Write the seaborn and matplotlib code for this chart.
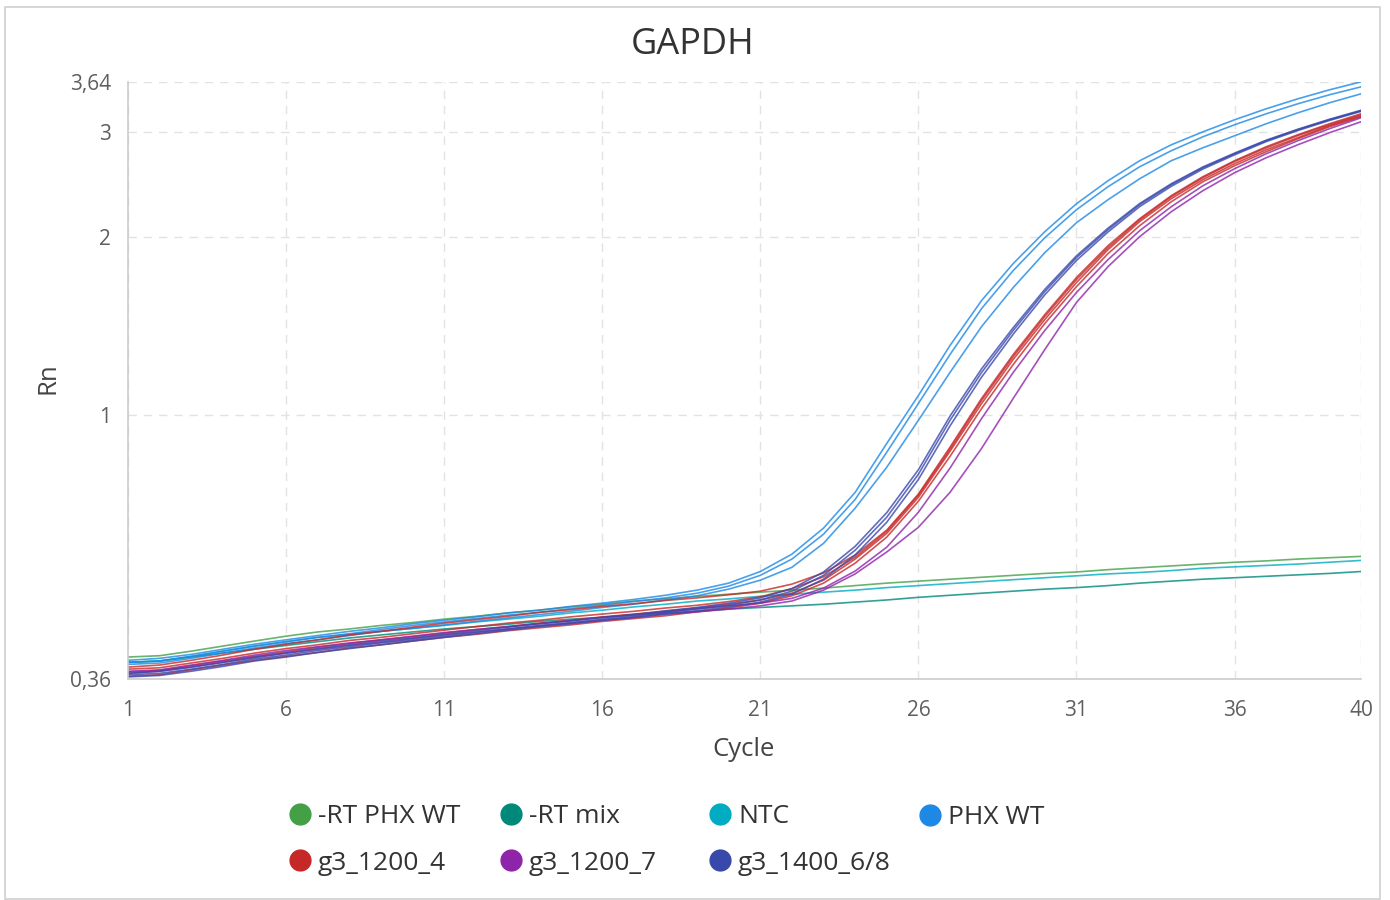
import pandas as pd
import matplotlib
matplotlib.use("Agg")
import matplotlib.pyplot as plt
import matplotlib.ticker as mticker
from matplotlib.lines import Line2D
from matplotlib.patches import Rectangle
import seaborn as sns

cycles = list(range(1, 41))

# controls (one well each)
rt_phx_wt = [0.392, 0.394, 0.401, 0.409, 0.417, 0.425, 0.432, 0.437, 0.443, 0.448,
             0.454, 0.459, 0.465, 0.470, 0.476, 0.481, 0.487, 0.491, 0.496, 0.500,
             0.504, 0.508, 0.512, 0.517, 0.522, 0.526, 0.530, 0.534, 0.538, 0.542,
             0.545, 0.550, 0.554, 0.558, 0.562, 0.566, 0.569, 0.573, 0.576, 0.579]
rt_mix = [0.384, 0.386, 0.392, 0.398, 0.404, 0.410, 0.416, 0.422, 0.427, 0.432,
          0.437, 0.441, 0.445, 0.450, 0.454, 0.457, 0.461, 0.465, 0.468, 0.472,
          0.475, 0.478, 0.481, 0.485, 0.489, 0.494, 0.498, 0.502, 0.506, 0.510,
          0.513, 0.517, 0.522, 0.526, 0.530, 0.533, 0.536, 0.539, 0.542, 0.546]
ntc = [0.384, 0.386, 0.393, 0.401, 0.409, 0.416, 0.423, 0.428, 0.433, 0.438,
       0.443, 0.449, 0.454, 0.459, 0.465, 0.470, 0.476, 0.481, 0.487, 0.491,
       0.496, 0.500, 0.504, 0.508, 0.513, 0.517, 0.521, 0.525, 0.529, 0.533,
       0.537, 0.541, 0.544, 0.548, 0.553, 0.556, 0.559, 0.562, 0.566, 0.570]

# PHX WT replicates
phx_wt_1 = [0.387, 0.390, 0.396, 0.404, 0.412, 0.419, 0.426, 0.433, 0.439, 0.446,
            0.452, 0.458, 0.465, 0.470, 0.477, 0.483, 0.490, 0.498, 0.508, 0.522,
            0.546, 0.584, 0.646, 0.742, 0.897, 1.080, 1.311, 1.561, 1.801, 2.038,
            2.271, 2.483, 2.683, 2.854, 3.001, 3.144, 3.281, 3.410, 3.531, 3.642]
phx_wt_2 = [0.384, 0.386, 0.393, 0.401, 0.409, 0.416, 0.423, 0.429, 0.436, 0.443,
            0.449, 0.455, 0.461, 0.466, 0.473, 0.479, 0.486, 0.493, 0.502, 0.516,
            0.538, 0.573, 0.631, 0.722, 0.867, 1.047, 1.266, 1.513, 1.753, 1.991,
            2.219, 2.426, 2.621, 2.789, 2.944, 3.084, 3.218, 3.345, 3.464, 3.572]
phx_wt_3 = [0.381, 0.383, 0.390, 0.398, 0.406, 0.413, 0.419, 0.426, 0.433, 0.438,
            0.444, 0.450, 0.456, 0.462, 0.468, 0.475, 0.481, 0.489, 0.497, 0.510,
            0.528, 0.555, 0.609, 0.698, 0.818, 0.981, 1.181, 1.411, 1.641, 1.879,
            2.110, 2.307, 2.502, 2.683, 2.821, 2.955, 3.096, 3.230, 3.358, 3.477]

# g3_1200_4 replicates
g3_1200_4_1 = [0.377, 0.380, 0.387, 0.395, 0.404, 0.412, 0.419, 0.427, 0.433, 0.440,
               0.447, 0.453, 0.459, 0.466, 0.471, 0.477, 0.482, 0.488, 0.493, 0.499,
               0.506, 0.520, 0.543, 0.582, 0.641, 0.737, 0.884, 1.068, 1.266, 1.478,
               1.706, 1.931, 2.143, 2.343, 2.522, 2.683, 2.832, 2.967, 3.096, 3.218]
g3_1200_4_2 = [0.370, 0.372, 0.379, 0.386, 0.393, 0.400, 0.407, 0.413, 0.419, 0.424,
               0.430, 0.436, 0.441, 0.447, 0.452, 0.458, 0.463, 0.468, 0.474, 0.481,
               0.489, 0.502, 0.528, 0.573, 0.633, 0.728, 0.870, 1.047, 1.242, 1.450,
               1.673, 1.901, 2.119, 2.316, 2.493, 2.652, 2.799, 2.933, 3.072, 3.193]
g3_1200_4_3 = [0.364, 0.366, 0.373, 0.380, 0.387, 0.393, 0.399, 0.406, 0.411, 0.417,
               0.423, 0.428, 0.434, 0.439, 0.444, 0.450, 0.455, 0.460, 0.467, 0.474,
               0.483, 0.497, 0.522, 0.564, 0.624, 0.717, 0.853, 1.027, 1.218, 1.428,
               1.647, 1.872, 2.086, 2.289, 2.473, 2.631, 2.778, 2.921, 3.060, 3.181]
g3_1200_4_4 = [0.374, 0.376, 0.383, 0.390, 0.398, 0.405, 0.411, 0.418, 0.423, 0.429,
               0.435, 0.441, 0.447, 0.452, 0.458, 0.463, 0.468, 0.474, 0.479, 0.486,
               0.495, 0.511, 0.535, 0.577, 0.638, 0.734, 0.877, 1.060, 1.256, 1.467,
               1.693, 1.916, 2.134, 2.334, 2.512, 2.674, 2.820, 2.957, 3.084, 3.205]

# g3_1200_7 replicates
g3_1200_7_1 = [0.371, 0.373, 0.380, 0.387, 0.395, 0.402, 0.408, 0.414, 0.419, 0.425,
               0.431, 0.436, 0.441, 0.446, 0.451, 0.457, 0.462, 0.467, 0.473, 0.478,
               0.483, 0.492, 0.512, 0.547, 0.600, 0.687, 0.815, 0.988, 1.181, 1.390,
               1.610, 1.829, 2.046, 2.245, 2.435, 2.601, 2.756, 2.899, 3.037, 3.169]
g3_1200_7_2 = [0.368, 0.371, 0.377, 0.384, 0.391, 0.398, 0.404, 0.410, 0.415, 0.421,
               0.427, 0.432, 0.437, 0.442, 0.447, 0.452, 0.457, 0.463, 0.467, 0.472,
               0.478, 0.487, 0.508, 0.541, 0.589, 0.648, 0.742, 0.880, 1.068, 1.291,
               1.549, 1.780, 1.999, 2.202, 2.389, 2.561, 2.714, 2.854, 2.990, 3.120]

# g3_1400_6/8 replicates
g3_1400_68_1 = [0.366, 0.368, 0.374, 0.381, 0.389, 0.395, 0.402, 0.408, 0.414, 0.419,
                0.425, 0.431, 0.437, 0.443, 0.448, 0.454, 0.459, 0.466, 0.472, 0.479,
                0.489, 0.506, 0.538, 0.593, 0.674, 0.796, 0.981, 1.181, 1.390, 1.616,
                1.843, 2.054, 2.263, 2.445, 2.611, 2.756, 2.899, 3.025, 3.144, 3.256]
g3_1400_68_2 = [0.363, 0.365, 0.371, 0.378, 0.386, 0.392, 0.399, 0.405, 0.411, 0.417,
                0.423, 0.429, 0.435, 0.441, 0.446, 0.452, 0.457, 0.463, 0.469, 0.476,
                0.485, 0.500, 0.530, 0.582, 0.661, 0.780, 0.960, 1.160, 1.370, 1.596,
                1.823, 2.036, 2.246, 2.430, 2.598, 2.745, 2.889, 3.016, 3.136, 3.248]
g3_1400_68_3 = [0.368, 0.371, 0.377, 0.384, 0.392, 0.398, 0.405, 0.411, 0.417, 0.422,
                0.428, 0.434, 0.440, 0.446, 0.451, 0.457, 0.462, 0.469, 0.475, 0.483,
                0.493, 0.511, 0.545, 0.602, 0.686, 0.810, 0.997, 1.198, 1.405, 1.630,
                1.856, 2.066, 2.273, 2.454, 2.619, 2.763, 2.905, 3.031, 3.150, 3.262]

samples = ["-RT PHX WT", "-RT mix", "NTC", "PHX WT",
           "g3_1200_4", "g3_1200_7", "g3_1400_6/8"]
colors = ["#43a047", "#00897b", "#00acc1", "#1e88e5",
          "#c62828", "#8e24aa", "#3949ab"]
wells = {
    "-RT PHX WT": [rt_phx_wt],
    "-RT mix": [rt_mix],
    "NTC": [ntc],
    "PHX WT": [phx_wt_1, phx_wt_2, phx_wt_3],
    "g3_1200_4": [g3_1200_4_1, g3_1200_4_2, g3_1200_4_3, g3_1200_4_4],
    "g3_1200_7": [g3_1200_7_1, g3_1200_7_2],
    "g3_1400_6/8": [g3_1400_68_1, g3_1400_68_2, g3_1400_68_3],
}

rows = []
for s in samples:
    for i, vals in enumerate(wells[s]):
        for c, v in zip(cycles, vals):
            rows.append({"Cycle": c, "Rn": v, "Sample": s, "Well": f"{s}_{i}"})
df = pd.DataFrame(rows)

sns.set_style("white")
plt.rcParams["font.family"] = ["Open Sans", "DejaVu Sans"]

W, H = 1390, 900
fig = plt.figure(figsize=(W / 100, H / 100), dpi=100)
fig.patches.append(Rectangle((5 / W, 1 - 899 / H), 1375 / W, 892 / H,
                             transform=fig.transFigure, fill=False,
                             edgecolor="#cfcfcf", linewidth=1.2))
ax = fig.add_axes([128 / W, 1 - 679 / H, (1361 - 128) / W, (679 - 82) / H])

sns.lineplot(data=df, x="Cycle", y="Rn", hue="Sample", units="Well",
             estimator=None, hue_order=samples,
             palette=dict(zip(samples, colors)), linewidth=1.2, alpha=0.8,
             legend=False, ax=ax)

ax.set_yscale("log")
ax.set_ylim(0.36, 3.64)
ax.set_xlim(1, 40)

ax.set_yticks([0.36, 1, 2, 3, 3.64])
ax.set_yticklabels(["0,36", "1", "2", "3", "3,64"])
ax.yaxis.set_minor_locator(mticker.FixedLocator([0.4, 0.5, 0.6, 0.7, 0.8, 0.9]))
ax.yaxis.set_minor_formatter(mticker.NullFormatter())
ax.set_xticks([1, 6, 11, 16, 21, 26, 31, 36, 40])
ax.xaxis.set_minor_locator(mticker.FixedLocator(cycles))

ax.grid(True, which="major", linestyle=(0, (6, 5)), color="#e2e2e2", linewidth=1)
for side in ["top", "right"]:
    ax.spines[side].set_visible(False)
for side in ["left", "bottom"]:
    ax.spines[side].set_color("#cccccc")
    ax.spines[side].set_linewidth(1.2)

ax.tick_params(which="both", direction="out", color="#cccccc", width=1.2,
               labelcolor="#5f5f5f", labelsize=15)
ax.tick_params(axis="y", which="major", length=10, pad=2)
ax.tick_params(axis="x", which="major", length=10, pad=5)
ax.tick_params(axis="y", which="minor", length=6)
ax.tick_params(axis="x", which="minor", length=7)
ax.set_xlabel("")
ax.set_ylabel("")

fig.text(693 / W, 1 - 45 / H, "GAPDH", ha="center", va="center",
         fontsize=26, color="#333333")
fig.text(744 / W, 1 - 750 / H, "Cycle", ha="center", va="center",
         fontsize=18.5, color="#444444")
fig.text(48 / W, 1 - 378 / H, "Rn", ha="center", va="center", rotation=90,
         fontsize=18.5, color="#444444")

# legend: 4 fixed-width columns, filled row by row
col_x = [289, 500, 709, 919]
columns = [[0, 4], [1, 5], [2, 6], [3]]
for x0, idx in zip(col_x, columns):
    handles = [Line2D([], [], marker="o", linestyle="", markersize=15,
                      color=colors[i]) for i in idx]
    yc = 840 if len(idx) == 2 else 818
    fig.legend(handles, [samples[i] for i in idx], loc="center left",
               bbox_to_anchor=(x0 / W, 1 - yc / H), frameon=False,
               fontsize=19, labelcolor="#333333", handlelength=0.8,
               handletextpad=0.3, labelspacing=0.8, borderpad=0,
               borderaxespad=0)

fig.savefig("out.png", dpi=100)
